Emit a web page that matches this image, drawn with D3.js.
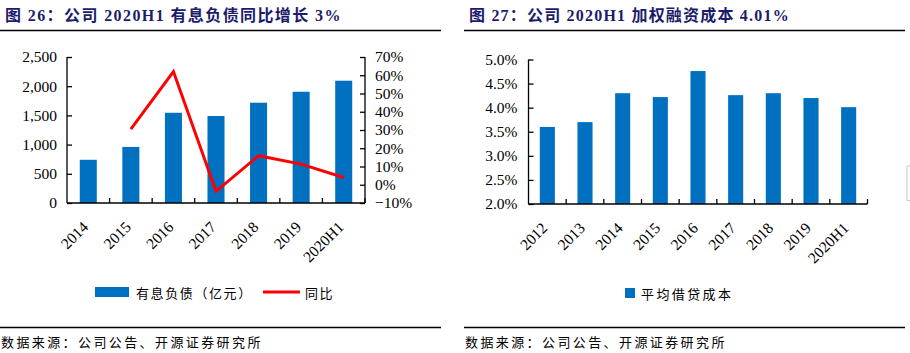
<!DOCTYPE html>
<html><head><meta charset="utf-8">
<script src="https://cdn.jsdelivr.net/npm/d3@7"></script>
<style>
body{margin:0;background:#fff;}
svg{display:block;}
.num{font-family:"Liberation Serif","Times New Roman",serif;font-size:15.5px;fill:#000;}
.cjk{font-family:"Noto Sans CJK SC",sans-serif;fill:#000;}
.title{font-family:"Liberation Serif","Noto Sans CJK SC",serif;font-weight:bold;font-size:16px;fill:#1c1c6b;}
</style></head><body>
<svg id="c" width="910" height="353"></svg>
<script>
// ---- data ----
const debtYears = ["2014","2015","2016","2017","2018","2019","2020H1"];
const debtValues = [740, 960, 1545, 1490, 1717, 1905, 2094];
const yoyValues = [null, 0.305, 0.62, -0.036, 0.159, 0.113, 0.04];
const debtTicks = [0, 500, 1000, 1500, 2000, 2500];
const yoyTicks = [-0.1, 0, 0.1, 0.2, 0.3, 0.4, 0.5, 0.6, 0.7];

const costYears = ["2012","2013","2014","2015","2016","2017","2018","2019","2020H1"];
const costValues = [0.036, 0.037, 0.043, 0.0422, 0.0476, 0.0426, 0.043, 0.042, 0.0401];
const costTicks = [0.02, 0.025, 0.03, 0.035, 0.04, 0.045, 0.05];

const titles = ["图 26：公司 2020H1 有息负债同比增长 3%", "图 27：公司 2020H1 加权融资成本 4.01%"];
const legendDebt = ["有息负债（亿元）", "同比"];
const legendCost = ["平均借贷成本"];
const sourceText = "数据来源：公司公告、开源证券研究所";

const BLUE = "#0070C0", RED = "#FF0000";
const svg = d3.select("#c");

// ---- headers/footers ----
function frame(x0, x1, title, ls){
  svg.append("text").attr("class","title").attr("x", x0+5).attr("y", 21)
     .style("letter-spacing", ls + "px").text(title);
  svg.append("line").attr("x1",x0).attr("x2",x1).attr("y1",30.5).attr("y2",30.5)
     .attr("stroke","#000").attr("stroke-width",1.5);
  svg.append("line").attr("x1",x0).attr("x2",x1).attr("y1",327.5).attr("y2",327.5)
     .attr("stroke","#000").attr("stroke-width",1.5);
  svg.append("text").attr("class","cjk").attr("x", x0+1).attr("y", 347)
     .style("font-size","13px").style("letter-spacing","2.4px").text(sourceText);
}
frame(0, 441, titles[0], 1.4);
frame(464, 905, titles[1], 1.2);

function xAxisDraw(g, x, y0, cats){
  const step = x.step();
  const r = x.range();
  g.append("line").attr("x1",r[0]).attr("x2",r[1]).attr("y1",y0).attr("y2",y0)
   .attr("stroke","#000").attr("stroke-width",1.3);
  for(let i=1;i<=cats.length;i++){
    const xx = r[0] + i*step;
    g.append("line").attr("x1",xx).attr("x2",xx).attr("y1",y0).attr("y2",y0-5)
     .attr("stroke","#000").attr("stroke-width",1.3);
  }
  cats.forEach(c=>{
    const cx = x(c) + x.bandwidth()/2;
    g.append("text").attr("class","num").attr("text-anchor","end")
     .attr("transform",`translate(${cx+1},${y0+25}) rotate(-45)`).text(c);
  });
}

// ---- left chart ----
{
  const g = svg.append("g");
  const x = d3.scaleBand().domain(debtYears).range([67,365]).paddingInner(0.6).paddingOuter(0.3);
  const y = d3.scaleLinear().domain([0,2500]).range([203,57]);
  const y2 = d3.scaleLinear().domain([-0.1,0.7]).range([203,57]);

  g.selectAll("rect.bar").data(debtValues).join("rect").attr("class","bar")
   .attr("x",(d,i)=>x(debtYears[i])).attr("width",x.bandwidth())
   .attr("y",d=>y(d)).attr("height",d=>y(0)-y(d)).attr("fill",BLUE);

  const ya = g.append("g").attr("transform","translate(67,0)")
    .call(d3.axisLeft(y).tickValues(debtTicks).tickSize(-5).tickPadding(10).tickFormat(d3.format(",")));
  ya.select(".domain").attr("stroke","#000").attr("stroke-width",1.3).attr("d","M0,57V203");
  ya.selectAll(".tick line").attr("stroke","#000").attr("stroke-width",1.3);
  ya.selectAll("text").attr("class","num").attr("font-family",null).attr("font-size",null);

  const yb = g.append("g").attr("transform","translate(365,0)")
    .call(d3.axisRight(y2).tickValues(yoyTicks).tickSize(-5).tickPadding(10).tickFormat(d3.format(".0%")));
  yb.select(".domain").attr("stroke","#000").attr("stroke-width",1.3).attr("d","M0,57V203");
  yb.selectAll(".tick line").attr("stroke","#000").attr("stroke-width",1.3);
  yb.selectAll("text").attr("class","num").attr("font-family",null).attr("font-size",null);

  xAxisDraw(g, x, 203, debtYears);

  const pts = yoyValues.map((v,i)=>({v, c:debtYears[i]})).filter(d=>d.v!==null);
  const line = d3.line().x(d=>x(d.c)+x.bandwidth()/2).y(d=>y2(d.v));
  g.append("path").datum(pts).attr("d",line).attr("fill","none")
   .attr("stroke",RED).attr("stroke-width",3);

  g.append("rect").attr("x",95).attr("y",287).attr("width",34).attr("height",10).attr("fill",BLUE);
  g.append("text").attr("class","cjk").attr("x",136).attr("y",297.5)
   .style("font-size","13px").style("letter-spacing","1.6px").text(legendDebt[0]);
  g.append("line").attr("x1",263).attr("x2",300).attr("y1",292).attr("y2",292)
   .attr("stroke",RED).attr("stroke-width",3);
  g.append("text").attr("class","cjk").attr("x",305).attr("y",297.5)
   .style("font-size","13px").style("letter-spacing","1.6px").text(legendDebt[1]);
}

// ---- right chart ----
{
  const g = svg.append("g");
  const x = d3.scaleBand().domain(costYears).range([528.5,867.5]).paddingInner(0.6).paddingOuter(0.3);
  const y = d3.scaleLinear().domain([0.02,0.05]).range([204,59.5]);

  g.selectAll("rect.bar").data(costValues).join("rect").attr("class","bar")
   .attr("x",(d,i)=>x(costYears[i])).attr("width",x.bandwidth())
   .attr("y",d=>y(d)).attr("height",d=>y(0.02)-y(d)).attr("fill",BLUE);

  const ya = g.append("g").attr("transform","translate(528.5,0)")
    .call(d3.axisLeft(y).tickValues(costTicks).tickSize(-5).tickPadding(11).tickFormat(d3.format(".1%")));
  ya.select(".domain").attr("stroke","#000").attr("stroke-width",1.3).attr("d","M0,59.5V204");
  ya.selectAll(".tick line").attr("stroke","#000").attr("stroke-width",1.3);
  ya.selectAll("text").attr("class","num").attr("font-family",null).attr("font-size",null);

  xAxisDraw(g, x, 204, costYears);

  g.append("rect").attr("x",625).attr("y",288).attr("width",10).attr("height",10).attr("fill",BLUE);
  g.append("text").attr("class","cjk").attr("x",641).attr("y",298.5)
   .style("font-size","13px").style("letter-spacing","2.4px").text(legendCost[0]);

  g.append("path").attr("d","M910,166H907V200.5H910").attr("fill","none")
   .attr("stroke","#c8c8c8").attr("stroke-width",1);
}
</script>
</body></html>
